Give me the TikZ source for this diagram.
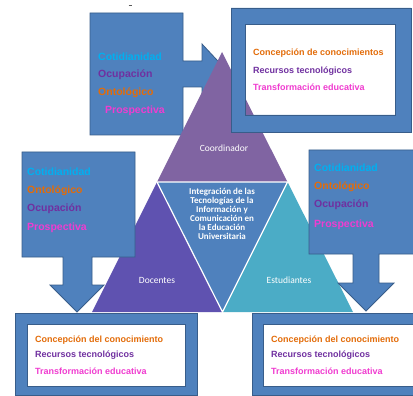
\documentclass[tikz,border=0pt]{standalone}
\usepackage{fontspec}
\setmainfont{Liberation Sans}
\newfontfamily\calib{Carlito}
\definecolor{cblue}{HTML}{4F81BD}
\definecolor{cdark}{HTML}{385D8A}
\definecolor{cpurple}{HTML}{8064A2}
\definecolor{cviolet}{HTML}{5F52B0}
\definecolor{cteal}{HTML}{4BACC6}
\definecolor{tcyan}{HTML}{00B0F0}
\definecolor{torange}{HTML}{E36C09}
\definecolor{tpurple}{HTML}{7030A0}
\definecolor{tpink}{HTML}{F03CD0}
\tikzset{
 callout/.style={fill=cblue, draw=cdark, line width=0.8pt, line join=miter},
 frame/.style={fill=cblue, draw=cdark, line width=0.8pt, even odd rule},
 ctext/.style={anchor=west, font=\bfseries\fontsize{10.5}{12}\selectfont, inner sep=0pt},
 btext/.style={anchor=west, font=\bfseries\fontsize{9}{10}\selectfont, inner sep=0pt},
 tlabel/.style={text=white, font=\calib\fontsize{9.5}{11}\selectfont, inner sep=0pt},
}
\begin{document}
\begin{tikzpicture}[x=1pt,y=-1pt]
\useasboundingbox (0,0) rectangle (413,396);
\fill[white] (0,0) rectangle (413,396);
% stray mark
\draw[gray!70!black, line width=0.8pt] (128.5,5) -- (131.5,5);
% top right inner white
\fill[white] (245,24) rectangle (395,115);
% top-left callout
\draw[callout] (90,13) -- (183,13) -- (183,61) -- (202,61) -- (202,44) -- (230,74) -- (202,104) -- (202,87) -- (183,87) -- (183,135) -- (90,135) -- cycle;
% pyramid
\coordinate (A) at (222,52);
\coordinate (L) at (92,312);
\coordinate (R) at (353,312);
\coordinate (ML) at (157,182);
\coordinate (MR) at (287.5,182);
\coordinate (MB) at (222.5,312);
\fill[cpurple] (A) -- (ML) -- (MR) -- cycle;
\fill[cviolet] (ML) -- (L) -- (MB) -- cycle;
\fill[cteal] (MR) -- (MB) -- (R) -- cycle;
\fill[cblue] (ML) -- (MR) -- (MB) -- cycle;
\draw[white, line width=1.2pt, line join=miter] (ML) -- (MR) -- (MB) -- cycle;
% top right frame
\draw[frame] (231,8) rectangle (411,132) (245,24) rectangle (395,115);
% left-mid callout
\draw[callout] (22,152) -- (135,152) -- (135,257) -- (92,257) -- (92,285) -- (104,285) -- (77,312) -- (50,285) -- (63,285) -- (63,257) -- (22,257) -- cycle;
% right-mid callout
\draw[callout] (309,150) -- (425,150) -- (425,254) -- (379,254) -- (379,283) -- (394,283) -- (366,311) -- (338,283) -- (353,283) -- (353,254) -- (309,254) -- cycle;
% bottom boxes
\fill[white] (27,324) rectangle (185,386);
\draw[frame] (15,313) rectangle (197,395) (27,324) rectangle (185,386);
\fill[white] (263,324) rectangle (420,386);
\draw[frame] (252,313) rectangle (425,395) (263,324) rectangle (420,386);
% pyramid labels
\node[tlabel] (coord) at (224,148) {Coordinador};
\node[tlabel] (doc) at (157,280) {Docentes};
\node[tlabel] (est) at (289,280) {Estudiantes};
\node[text=white, font=\calib\bfseries\fontsize{9}{9.1}\selectfont, align=center, inner sep=0pt] (center) at (222,214)
 {Integración de las\\Tecnologías de la\\Información y\\Comunicación en\\la Educación\\Universitaria};
% top-left callout texts
\node[ctext, text=tcyan] (tl1) at (98,57) {Cotidianidad};
\node[ctext, text=tpurple] (tl2) at (98,75) {Ocupación};
\node[ctext, text=torange] (tl3) at (98,93) {Ontológico};
\node[ctext, text=tpink] (tl4) at (105,111) {Prospectiva};
% left-mid callout texts
\node[ctext, text=tcyan] (lm1) at (27,172) {Cotidianidad};
\node[ctext, text=torange] (lm2) at (27,191) {Ontológico};
\node[ctext, text=tpurple] (lm3) at (27,209) {Ocupación};
\node[ctext, text=tpink] (lm4) at (27,228) {Prospectiva};
% right-mid callout texts
\node[ctext, text=tcyan] (rm1) at (314,168) {Cotidianidad};
\node[ctext, text=torange] (rm2) at (314,187) {Ontológico};
\node[ctext, text=tpurple] (rm3) at (314,205) {Ocupación};
\node[ctext, text=tpink] (rm4) at (314,225) {Prospectiva};
% top right box texts
\node[btext, text=torange] (tr1) at (253,53) {Concepción de conocimientos};
\node[btext, text=tpurple] (tr2) at (253,71) {Recursos tecnológicos};
\node[btext, text=tpink] (tr3) at (253,87) {Transformación educativa};
% bottom left box texts
\node[btext, text=torange] (bl1) at (35,340) {Concepción del conocimiento};
\node[btext, text=tpurple] (bl2) at (35,355) {Recursos tecnológicos};
\node[btext, text=tpink] (bl3) at (35,371) {Transformación educativa};
% bottom right box texts
\node[btext, text=torange] (br1) at (271,340) {Concepción del conocimiento};
\node[btext, text=tpurple] (br2) at (271,355) {Recursos tecnológicos};
\node[btext, text=tpink] (br3) at (271,371) {Transformación educativa};
\end{tikzpicture}
\end{document}
